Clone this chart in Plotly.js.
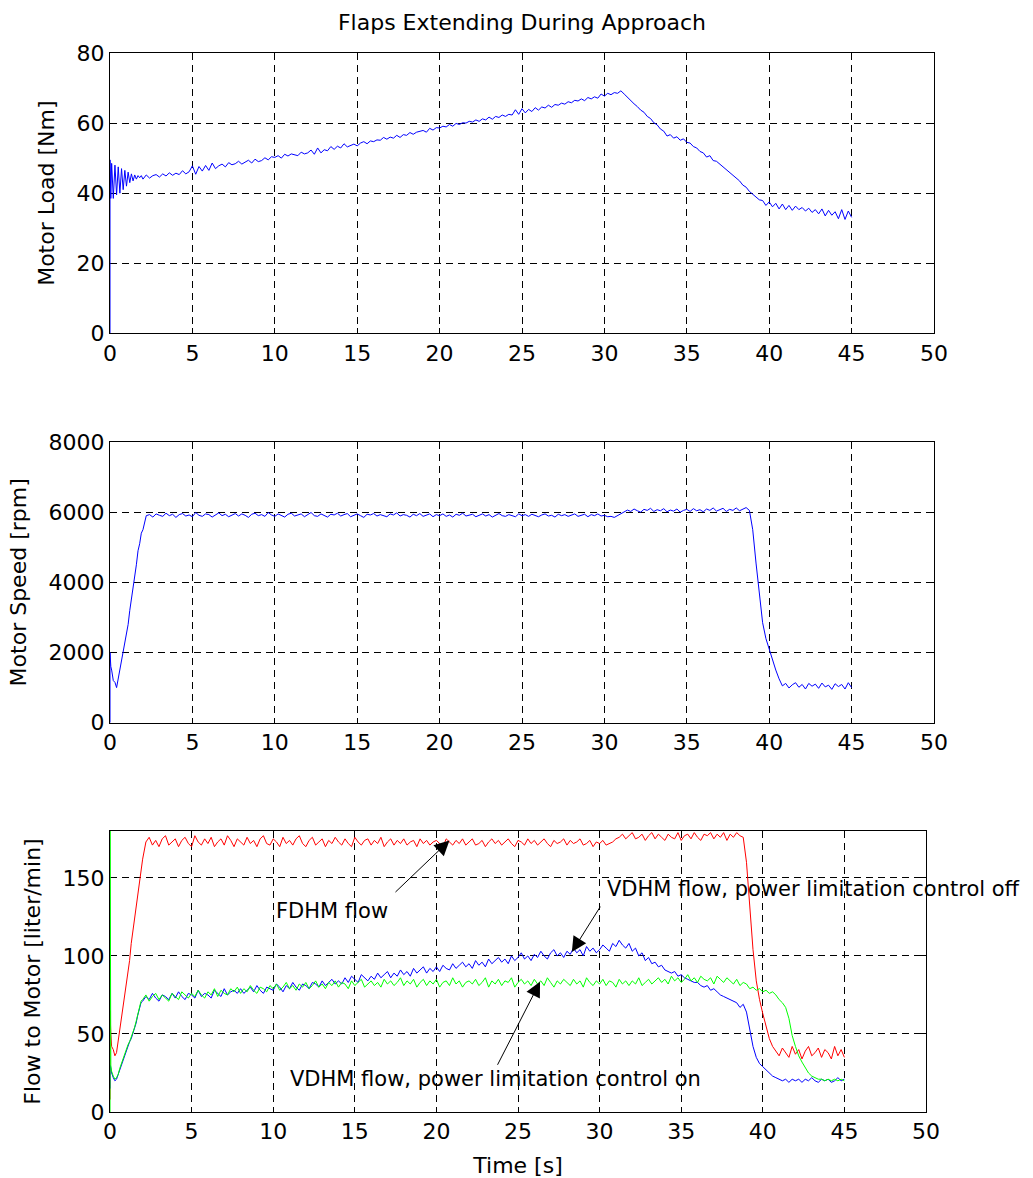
<!DOCTYPE html>
<html><head><meta charset="utf-8">
<script src="https://cdn.plot.ly/plotly-3.0.1.min.js"></script>
<style>html,body{margin:0;padding:0;background:#fff}#chart{width:1033px;height:1178px}</style>
</head><body><div id="chart"></div>
<script>
// ---- sampling grid: explicit start-up samples, then body samples every 0.2 s from 2.0 s ----
const headT = [0, 0, 0.05, 0.1, 0.2, 0.3, 0.4, 0.5, 0.6, 0.7, 0.8, 0.9, 1.0, 1.1, 1.2, 1.3, 1.4, 1.5, 1.6, 1.7, 1.8, 1.9];
const bodyStart = 2.0, bodyStep = 0.2;

// ---- Motor load [Nm] ----
const loadHead = [0, 49.5, 38.5, 48.5, 38.5, 48, 39.5, 47.5, 40, 47, 41, 46.5, 42, 46, 43, 45.5, 43.5, 45.2, 44, 45, 44.4, 45];
const loadBody = [
 44, 45.2, 44.3, 45, 45.3, 44.6, 45.5, 44.9, 45.8, 45.1,
 45.7, 45.3, 46.4, 45.5, 46.1, 47.8, 45.4, 47.6, 46.3, 47.9,
 46.5, 48.6, 47, 47.8, 48.3, 47.5, 48.7, 48.1, 48.4, 49.1,
 48.3, 48.9, 49.4, 48.6, 49.7, 49, 49.3, 50.1, 49.5, 50.4,
 50.2, 50.7, 50, 51.1, 50.6, 51.2, 51, 50.7, 51.7, 51.2,
 51.5, 52.3, 51.1, 52.9, 51.5, 52.4, 52.1, 53.3, 52.5, 53.4,
 52.9, 54.1, 53.2, 53.6, 54, 53.5, 54.3, 54.7, 54.1, 54.9,
 54.7, 55.2, 55.1, 55.9, 55.4, 56, 55.7, 56.5, 55.9, 56.7,
 56.5, 57.3, 56.8, 57.4, 57.6, 57.9, 57.4, 58.5, 58, 58.7,
 58.6, 59.1, 58.9, 59.6, 59.1, 59.9, 59.6, 60.1, 60, 60.5,
 60.3, 60.9, 60.5, 61.2, 60.9, 61.7, 61.1, 61.9, 61.6, 62.3,
 61.9, 62.5, 62.3, 63.8, 62.5, 64.1, 62.9, 63.9, 63.3, 64.4,
 63.7, 64.6, 64.3, 65.1, 64.5, 65.3, 65.1, 65.7, 65.4, 66.1,
 65.8, 66.5, 66.3, 66.9, 66.4, 67.3, 66.9, 67.5, 67.1, 68.3,
 67.7, 68.5, 68.1, 68.7, 68.5, 69.2, 68.3, 67.3, 66.3, 65.5,
 64.7, 63.7, 63.1, 61.9, 61.3, 60.1, 59.5, 58.3, 57.7, 56.3,
 56.7, 55.7, 56.1, 55.1, 55.5, 54.5, 54.3, 53.3, 52.9, 51.9,
 51.5, 50.3, 50.7, 49.3, 49.1, 48.3, 47.3, 46.7, 45.9, 45.1,
 44.3, 43.5, 42.3, 41.7, 40.5, 39.7, 39.1, 38.1, 37.9, 36.5,
 37.5, 36.1, 37.1, 35.5, 36.9, 35.3, 36.5, 35.1, 36.3, 35.3,
 35.9, 34.9, 35.7, 34.5, 35.3, 34.1, 35.5, 33.5, 35.1, 33.7,
 34.7, 32.7, 35.3, 32.5, 34.9, 33.1];

// ---- Motor speed [rpm] ----
const speedHead = [0, 2000, 1600, 1500, 1200, 1150, 1000, 1250, 1500, 1700, 2000, 2300, 2500, 2800, 3200, 3500, 3900, 4100, 4500, 4900, 5100, 5400];
const speedBody = [
 5500, 5900, 5930, 5860, 5950, 5910, 5880, 5970, 5900, 5940,
 5850, 5930, 5960, 5890, 5920, 5870, 5990, 5910, 5880, 5950,
 5930, 5860, 5910, 5980, 5900, 5940, 5870, 5920, 5960, 5890,
 5950, 5910, 5850, 5940, 5970, 5900, 5930, 5880, 5990, 5920,
 5880, 5950, 5910, 5860, 5940, 5970, 5890, 5920, 5950, 5870,
 5930, 5990, 5900, 5880, 5950, 5910, 5860, 5940, 5920, 5970,
 5890, 5930, 5960, 5870, 5910, 5950, 5900, 5850, 5940, 5920,
 5960, 5890, 5930, 5910, 5870, 5950, 5920, 5980, 5890, 5930,
 5910, 5860, 5940, 5900, 5960, 5880, 5920, 5950, 5870, 5930,
 5900, 5950, 5880, 5920, 5860, 5940, 5910, 5970, 5890, 5920,
 5940, 5870, 5910, 5950, 5890, 5930, 5860, 5920, 5960, 5900,
 5880, 5930, 5910, 5870, 5950, 5900, 5930, 5880, 5940, 5910,
 5870, 5920, 5950, 5890, 5910, 5860, 5940, 5900, 5930, 5880,
 5920, 5950, 5880, 5910, 5940, 5870, 5930, 5900, 5950, 5890,
 5910, 5870, 5880, 5850, 5900, 5960, 6010, 6060, 6020, 6090,
 6040, 6000, 6080, 6050, 6110, 6020, 6070, 6040, 6100, 6010,
 6060, 6030, 6090, 6000, 6050, 6080, 6020, 6100, 6040, 6070,
 6010, 6090, 6050, 6120, 6030, 6070, 6110, 6020, 6080, 6050,
 6120, 6040, 6090, 6130, 6050, 5500, 4550, 3600, 2850, 2400,
 2100, 1750, 1500, 1250, 1050, 1120, 990, 1080, 1140, 1010,
 1090, 960, 1120, 1040, 1100, 980, 1130, 1020, 1070, 950,
 1110, 1030, 1090, 960, 1140, 1000];

// ---- Flow to motor [liter/min] ----
const fdhmHead = [8, 65, 50, 42, 40, 36, 38, 45, 52, 62, 68, 76, 80, 90, 97, 108, 116, 123, 130, 138, 147, 155];
const fdhmBody = [
 162, 173, 176, 171, 174, 170, 175, 177, 171, 173,
 175, 170, 174, 176, 172, 170, 177, 173, 171, 175,
 172, 176, 170, 173, 175, 171, 177, 174, 170, 175,
 173, 171, 176, 172, 174, 170, 175, 177, 172, 171,
 175, 173, 170, 176, 172, 174, 171, 175, 177, 172,
 170, 174, 176, 171, 173, 175, 170, 174, 172, 176,
 173, 171, 175, 172, 170, 176, 173, 171, 174, 175,
 171, 174, 172, 176, 170, 173, 175, 171, 174, 172,
 175, 171, 173, 174, 170, 175, 172, 174, 171, 173,
 174, 172, 170, 175, 173, 171, 174, 172, 175, 171,
 173, 175, 171, 172, 174, 170, 173, 175, 172, 174,
 171, 173, 175, 172, 170, 174, 173, 171, 175, 172,
 174, 171, 173, 175, 172, 170, 174, 172, 173, 175,
 171, 174, 172, 173, 175, 171, 172, 174, 170, 173,
 172, 174, 171, 172, 173, 175, 176, 178, 175, 177,
 179, 175, 176, 178, 174, 177, 179, 175, 178, 176,
 174, 178, 176, 175, 179, 174, 177, 178, 175, 179,
 176, 174, 178, 177, 179, 175, 178, 176, 179, 174,
 178, 176, 179, 177, 176, 160, 131, 104, 84, 72,
 63, 54, 47, 42, 39, 36, 41, 38, 35, 42,
 37, 40, 34, 39, 42, 36, 38, 41, 35, 40,
 38, 34, 42, 36, 40, 35];

const vdhmOffHead = [15, 30, 28, 25, 22, 20, 21, 24, 27, 30, 34, 37, 40, 42, 45, 47, 50, 53, 57, 62, 66, 70];
const vdhmOffBody = [
 71, 74, 72, 76, 73, 71, 75, 74, 72, 76,
 73, 77, 74, 72, 76, 75, 73, 78, 74, 76,
 75, 73, 78, 76, 74, 79, 75, 77, 78, 76,
 79, 76, 78, 80, 77, 81, 78, 76, 80, 79,
 78, 82, 80, 77, 81, 79, 83, 80, 78, 82,
 81, 79, 83, 82, 80, 84, 81, 83, 85, 82,
 84, 82, 86, 83, 87, 85, 83, 88, 86, 84,
 87, 85, 89, 86, 88, 90, 86, 89, 87, 91,
 88, 90, 87, 92, 89, 91, 93, 89, 92, 90,
 93, 90, 94, 92, 91, 95, 92, 94, 96, 93,
 95, 92, 97, 94, 96, 93, 98, 95, 97, 99,
 96, 98, 95, 100, 97, 99, 102, 98, 100, 97,
 101, 99, 103, 100, 98, 102, 104, 100, 102, 99,
 103, 101, 105, 102, 104, 100, 106, 103, 105, 102,
 104, 107, 105, 103, 108, 106, 110, 107, 105, 108,
 103, 105, 100, 102, 97, 99, 95, 96, 93, 94,
 91, 90, 89, 90, 87, 88, 86, 85, 84, 83,
 83, 81, 80, 81, 78, 79, 77, 75, 74, 73,
 72, 71, 70, 67, 69, 64, 52, 42, 35, 31,
 29, 27, 25, 23, 22, 21, 20, 21, 19, 21,
 20, 21, 19, 21, 20, 22, 20, 19, 21, 20,
 21, 19, 20, 22, 20, 21];

const vdhmOnHead = [0, 200, 30, 26, 23, 21, 22, 24, 28, 31, 35, 37, 40, 43, 45, 48, 50, 54, 58, 63, 67, 71];
const vdhmOnBody = [
 72, 75, 71, 74, 76, 72, 75, 73, 71, 76,
 74, 72, 77, 75, 73, 76, 74, 78, 75, 73,
 77, 75, 79, 74, 78, 76, 75, 79, 77, 80,
 76, 79, 77, 81, 78, 76, 80, 79, 77, 81,
 79, 82, 78, 80, 83, 79, 81, 78, 82, 80,
 83, 79, 81, 84, 80, 82, 79, 83, 81, 84,
 80, 83, 82, 79, 84, 81, 83, 85, 80, 82,
 84, 81, 83, 80, 85, 82, 84, 81, 83, 86,
 81, 84, 82, 85, 80, 83, 85, 81, 84, 82,
 85, 80, 83, 84, 81, 86, 82, 84, 80, 83,
 84, 82, 85, 81, 83, 86, 80, 84, 82, 85,
 81, 84, 83, 86, 80, 83, 85, 82, 84, 81,
 85, 82, 84, 81, 86, 83, 80, 84, 82, 85,
 83, 81, 85, 82, 84, 80, 86, 83, 81, 84,
 82, 85, 81, 84, 83, 80, 85, 82, 84, 81,
 84, 82, 86, 81, 83, 85, 82, 84, 86, 83,
 85, 82, 87, 84, 86, 83, 85, 88, 84, 86,
 83, 87, 85, 84, 86, 82, 87, 85, 83, 86,
 84, 82, 85, 81, 83, 82, 79, 80, 78, 79,
 77, 78, 76, 77, 75, 72, 70, 67, 60, 49,
 42, 36, 32, 28, 25, 23, 22, 21, 21, 20,
 21, 20, 21, 20, 21, 20];

// ---- text ----
const chartTitle = 'Flaps Extending During Approach';
const yTitles = ['Motor Load [Nm]', 'Motor Speed [rpm]', 'Flow to Motor [liter/min]'];
const xTitle = 'Time [s]';
const notes = [
  {text: 'FDHM flow', tx: 13.6, ty: 129, anchor: 'center', hx: 20.8, hy: 174, ax: 17.4, ay: 140},
  {text: 'VDHM flow, power limitation control off', tx: 30.3, ty: 143, anchor: 'left', hx: 28.3, hy: 102.5, ax: 30.1, ay: 132.5},
  {text: 'VDHM flow, power limitation control on', tx: 23.65, ty: 21.4, anchor: 'center', hx: 26.35, hy: 83.4, ax: 23.7, ay: 29.3}
];

function series(head, body) {
  const x = headT.slice(0, head.length), y = head.slice();
  body.forEach((v, i) => { x.push(+(bodyStart + i * bodyStep).toFixed(2)); y.push(v); });
  return {x, y};
}

const FONT = 'DejaVu Sans, Liberation Sans, Arial, sans-serif';
function line(s, color, xa, ya) {
  return {x: s.x, y: s.y, type: 'scatter', mode: 'lines', xaxis: xa, yaxis: ya,
          line: {color, width: 1}, hoverinfo: 'skip', showlegend: false};
}
const L = series(loadHead, loadBody), S = series(speedHead, speedBody);
const F = series(fdhmHead, fdhmBody), Voff = series(vdhmOffHead, vdhmOffBody), Von = series(vdhmOnHead, vdhmOnBody);
const data = [
  line(L, '#0000ff', 'x', 'y'),
  line(S, '#0000ff', 'x2', 'y2'),
  line(F, '#ff0000', 'x3', 'y3'),
  line(Voff, '#0000ff', 'x3', 'y3'),
  line(Von, '#00ff00', 'x3', 'y3')
];

const ax = {
  showline: true, linecolor: '#000', linewidth: 1, mirror: 'ticks',
  ticks: 'inside', ticklen: 5, tickcolor: '#000', tickwidth: 1,
  showgrid: true, gridcolor: '#000', gridwidth: 1, griddash: '7px,5px',
  zeroline: false, layer: 'below traces', fixedrange: true,
  tickfont: {family: FONT, size: 22, color: '#000'}
};
const titleFont = {family: FONT, size: 22, color: '#000'};
const xa = (extra) => Object.assign({}, ax, {range: [0, 50], tick0: 0, dtick: 5}, extra);
const layout = {
  width: 1033, height: 1178,
  margin: {l: 110, r: 99, t: 53, b: 66},
  paper_bgcolor: '#fff', plot_bgcolor: '#fff',
  font: {family: FONT, color: '#000'},
  title: {text: chartTitle, x: 0.5, xref: 'paper', xanchor: 'center',
          y: 1 - 22 / 1178, yref: 'container', yanchor: 'middle',
          font: {family: FONT, size: 22, color: '#000'}},
  xaxis: xa({domain: [0, 1], anchor: 'y'}),
  xaxis2: xa({domain: [0, 1], anchor: 'y2'}),
  xaxis3: xa({domain: [0, 0.9903], anchor: 'y3', title: {text: xTitle, font: titleFont}}),
  yaxis: Object.assign({}, ax, {domain: [0.7353, 1], range: [0, 80], dtick: 20, anchor: 'x',
          title: {text: yTitles[0], font: titleFont, standoff: 15}}),
  yaxis2: Object.assign({}, ax, {domain: [0.3676, 0.6327], range: [0, 8000], dtick: 2000, anchor: 'x2',
          title: {text: yTitles[1], font: titleFont, standoff: 15}}),
  yaxis3: Object.assign({}, ax, {domain: [0, 0.2653], range: [0, 180], tickvals: [0, 50, 100, 150], anchor: 'x3',
          title: {text: yTitles[2], font: titleFont, standoff: 15}}),
  annotations: [],
  showlegend: false, hovermode: false
};
notes.forEach(n => {
  layout.annotations.push({xref: 'x3', yref: 'y3', x: n.tx, y: n.ty, text: n.text, showarrow: false,
    xanchor: n.anchor, yanchor: 'middle', font: {family: FONT, size: 21, color: '#000'}});
  layout.annotations.push({xref: 'x3', yref: 'y3', x: n.hx, y: n.hy, axref: 'x3', ayref: 'y3',
    ax: n.ax, ay: n.ay, text: '', showarrow: true, arrowhead: 2, arrowsize: 3, arrowwidth: 1,
    arrowcolor: '#000', standoff: 0, startstandoff: 0});
});

Plotly.newPlot('chart', data, layout, {staticPlot: true, displayModeBar: false});
</script></body></html>
